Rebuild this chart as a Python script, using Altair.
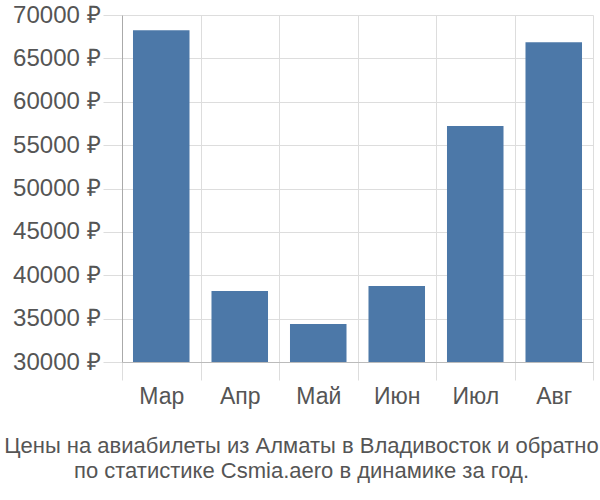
import altair as alt
import pandas as pd

months = ["Мар", "Апр", "Май", "Июн", "Июл", "Авг"]
prices = [68250, 38180, 34380, 38750, 57200, 66870]

df = pd.DataFrame({"month": months, "price": prices})

bars = alt.Chart(df).mark_bar(color="#4c78a8", clip=True,
                              width=alt.RelativeBandSize(0.72)).encode(
    x=alt.X("month:N", sort=months, title=None,
            scale=alt.Scale(paddingInner=0, paddingOuter=0),
            axis=alt.Axis(labelAngle=0, labelFontSize=23, labelColor="#555555",
                          labelFont="Liberation Sans", tickSize=18, tickColor="#dddddd",
                          domainColor="#bbbbbb", grid=True, gridColor="#dddddd",
                          tickBand="extent", labelPadding=5)),
    y=alt.Y("price:Q", title=None,
            scale=alt.Scale(domain=[30000, 70000], zero=False, nice=False),
            axis=alt.Axis(values=[30000, 35000, 40000, 45000, 50000, 55000, 60000, 65000, 70000],
                          labelExpr="datum.value + ' ₽'", labelFontSize=24,
                          labelColor="#555555", labelFont="Liberation Sans",
                          tickSize=19, tickColor="#dddddd", gridColor="#dddddd",
                          domainColor="#aaaaaa", labelPadding=3)),
)

chart = bars.properties(
    width=471, height=347,
    autosize=alt.AutoSizeParams(type="none"),
    padding={"left": 122, "top": 15, "right": 7, "bottom": 138},
    title=alt.TitleParams(
        text=["Цены на авиабилеты из Алматы в Владивосток и обратно",
              "по статистике Csmia.aero в динамике за год."],
        orient="bottom", anchor="middle", fontSize=22, font="Liberation Sans",
        fontWeight="normal", color="#555555", lineHeight=25, offset=28, dx=-56),
).configure_view(stroke=None)

chart.save("out.html", embed_options={"renderer": "svg", "actions": False})
